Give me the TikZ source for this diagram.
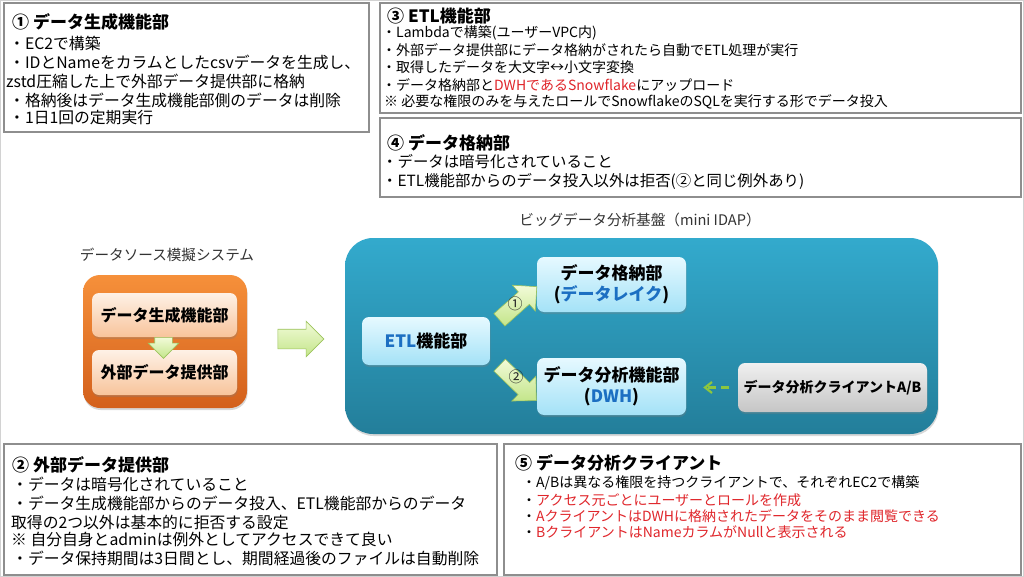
\documentclass[tikz,border=0pt]{standalone}
\usepackage{fontspec}
\setmainfont{Noto Sans CJK JP}
\usetikzlibrary{shapes.arrows,shadows,arrows.meta}

\definecolor{framegray}{HTML}{8E8E8E}
\definecolor{redtxt}{HTML}{E0262B}
\definecolor{bluetxt}{HTML}{1C6FC2}
\definecolor{idaptop}{HTML}{33AACD}
\definecolor{idapbot}{HTML}{237E9A}
\definecolor{celltop}{HTML}{E6F9FF}
\definecolor{cellbot}{HTML}{A4E2F7}
\definecolor{srctop}{HTML}{F6903A}
\definecolor{srcbot}{HTML}{D3601C}
\definecolor{peachtop}{HTML}{FEF1E6}
\definecolor{peachbot}{HTML}{F8C49B}
\definecolor{gtop}{HTML}{F2FBD8}
\definecolor{gbot}{HTML}{C3E58A}
\definecolor{gline}{HTML}{9CC35C}
\definecolor{dashgreen}{HTML}{8CC63F}

\tikzset{
  descframe/.style={draw=framegray, line width=1.3pt},
  ttl/.style={anchor=west, inner sep=0pt, font=\fontsize{17}{20}\selectfont\bfseries},
  txtbig/.style={anchor=west, inner sep=0pt, font=\fontsize{15.8}{19}\selectfont},
  txtmid/.style={anchor=west, inner sep=0pt, font=\fontsize{15.4}{19}\selectfont},
  txtsmall/.style={anchor=west, inner sep=0pt, font=\fontsize{14}{17}\selectfont},
  caption/.style={inner sep=0pt, text=black!80, font=\fontsize{14.6}{17}\selectfont},
  softshadow/.style={drop shadow={opacity=0.3, shadow xshift=0.6pt, shadow yshift=-2pt}},
  cell/.style={rounded corners=7pt, top color=celltop, bottom color=cellbot,
    softshadow, align=center, font=\fontsize{17}{21}\selectfont\bfseries},
  peach/.style={rounded corners=7pt, top color=peachtop, bottom color=peachbot,
    softshadow, font=\fontsize{16}{19}\selectfont\bfseries},
  garrow/.style={single arrow, draw=gline, line width=0.6pt, top color=gtop,
    bottom color=gbot, inner xsep=0pt, text width=0pt, text height=0pt, text depth=0pt},
  cliarrow/.style={draw=dashgreen, line width=2.2pt, dash pattern=on 8pt off 5pt,
    -{Straight Barb[length=7pt,width=11pt]}},
  numlbl/.style={inner sep=0pt, text=black!85, font=\fontsize{15}{17}\selectfont},
}

\begin{document}
\begin{tikzpicture}[x=1pt,y=-1pt]
\useasboundingbox (0,0) rectangle (1024,577);
\fill[white] (0,0) rectangle (1024,577);
\draw[gray!35] (0.5,0.5) rectangle (1023.5,576.5);

% box 1
\draw[descframe] (4,3) rectangle (369,132);
\node[ttl] (t1) at (12,22) {① データ生成機能部};
\node[txtbig] (a1) at (9,43) {・EC2で構築};
\node[txtbig] (a2) at (9,62) {・IDとNameをカラムとしたcsvデータを生成し、};
\node[txtbig] (a3) at (6,81) {zstd圧縮した上で外部データ提供部に格納};
\node[txtbig] (a4) at (9,100) {・格納後はデータ生成機能部側のデータは削除};
\node[txtbig] (a5) at (9,118) {・1日1回の定期実行};

% box 3
\draw[descframe] (380,3) rectangle (1021,113);
\node[ttl] (t3) at (387,16) {③ ETL機能部};
\node[txtsmall] (c1) at (382,33) {・Lambdaで構築(ユーザーVPC内)};
\node[txtsmall] (c2) at (382,50) {・外部データ提供部にデータ格納がされたら自動でETL処理が実行};
\node[txtsmall] (c3) at (382,67) {・取得したデータを大文字↔小文字変換};
\node[txtsmall] (c4) at (382,85) {・データ格納部と\textcolor{redtxt}{DWHであるSnowflake}にアップロード};
\node[txtsmall] (c5) at (384,102) {※ 必要な権限のみを与えたロールでSnowflakeのSQLを実行する形でデータ投入};

% box 4
\draw[descframe] (380,118) rectangle (1021,197);
\node[ttl] (t4) at (387,143) {④ データ格納部};
\node[txtmid] (e1) at (382,162) {・データは暗号化されていること};
\node[txtmid] (e2) at (382,181) {・ETL機能部からのデータ投入以外は拒否(②と同じ例外あり)};

% data source side
\node[caption] (srccap) at (167,255) {データソース模擬システム};
\node[rounded corners=17pt, top color=srctop, bottom color=srcbot, softshadow,
  minimum width=164pt, minimum height=133pt] (src) at (165,341.5) {};
\node[peach, minimum width=145pt, minimum height=44pt] (gen) at (164.5,315) {データ生成機能部};
\node[peach, minimum width=145pt, minimum height=45pt] (prov) at (164.5,372.5) {外部データ提供部};
\node[garrow, rotate=-90, minimum height=21pt, inner ysep=8.5pt,
  single arrow head extend=6.5pt] (gendown) at (163.5,343.5) {};

% big data platform
\node[caption] (idapcap) at (640,220) {ビッグデータ分析基盤（mini IDAP）};
\node[rounded corners=28pt, top color=idaptop, bottom color=idapbot, softshadow,
  minimum width=593pt, minimum height=196pt] (idap) at (641.5,336) {};
\node[garrow, minimum height=46pt, inner ysep=9.5pt,
  single arrow head extend=8pt] (toidap) at (296,339) {};

\node[cell, minimum width=128pt, minimum height=48pt] (etl) at (426,341)
  {\textcolor{bluetxt}{ETL}機能部};
\node[cell, minimum width=149pt, minimum height=55pt] (lake) at (611.5,284.5)
  {データ格納部\\(\textcolor{bluetxt}{データレイク})};
\node[cell, minimum width=149pt, minimum height=57pt] (dwh) at (611.5,386.5)
  {データ分析機能部\\(\textcolor{bluetxt}{DWH})};
\node[rounded corners=7pt, top color=gray!12, bottom color=gray!45, softshadow,
  minimum width=189pt, minimum height=49pt, font=\fontsize{14}{17}\selectfont\bfseries]
  (client) at (832.5,387.5) {データ分析クライアントA/B};

% arrows from etl
\node[garrow, rotate=41.6, minimum height=50pt, inner ysep=8pt,
  single arrow head extend=9pt] (toLake) at (515,306) {};
\node[numlbl] (n1) at (515,304) {①};
\node[garrow, rotate=-44, minimum height=51pt, inner ysep=8pt,
  single arrow head extend=9pt] (toDwh) at (515,380) {};
\node[numlbl] (n2) at (516,377) {②};
\draw[cliarrow, shorten <=9pt, shorten >=17pt] (client.west) -- (client.west -| dwh.east);

% box 2
\draw[descframe] (4,444) rectangle (497,575);
\node[ttl] (t2) at (12,465) {② 外部データ提供部};
\node[txtbig] (b1) at (12,484) {・データは暗号化されていること};
\node[txtbig] (b2) at (12,503) {・データ生成機能部からのデータ投入、ETL機能部からのデータ};
\node[txtbig] (b3) at (11,522) {取得の2つ以外は基本的に拒否する設定};
\node[txtbig] (b4) at (11,540) {※ 自分自身とadminは例外としてアクセスできて良い};
\node[txtbig] (b5) at (12,558) {・データ保持期間は3日間とし、期間経過後のファイルは自動削除};

% box 5
\draw[descframe] (504,444) rectangle (1021,575);
\node[ttl] (t5) at (515,463) {⑤ データ分析クライアント};
\node[txtsmall] (f1) at (522,483) {・A/Bは異なる権限を持つクライアントで、それぞれEC2で構築};
\node[txtsmall] (f2) at (522,500) {・\textcolor{redtxt}{アクセス元ごとにユーザーとロールを作成}};
\node[txtsmall] (f3) at (522,516) {・\textcolor{redtxt}{AクライアントはDWHに格納されたデータをそのまま閲覧できる}};
\node[txtsmall] (f4) at (522,532) {・\textcolor{redtxt}{BクライアントはNameカラムがNullと表示される}};
\end{tikzpicture}
\end{document}
